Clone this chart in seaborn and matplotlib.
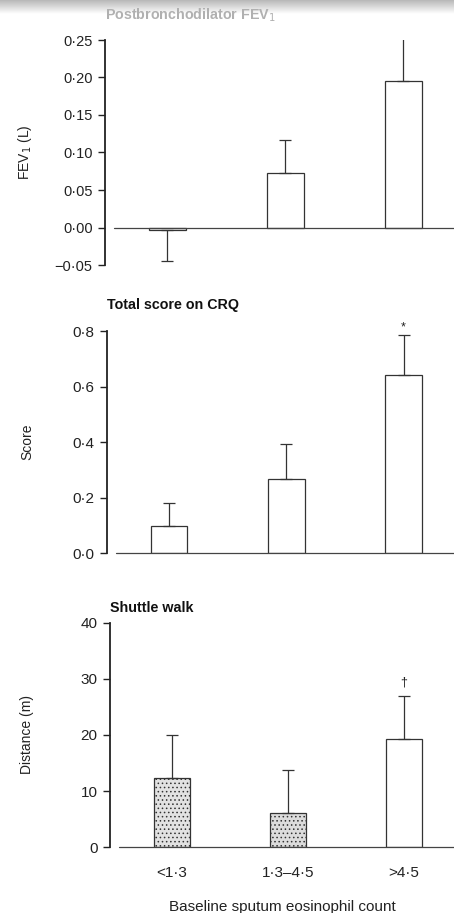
import matplotlib
matplotlib.use("Agg")
import matplotlib.pyplot as plt
import numpy as np
import pandas as pd
import seaborn as sns

sns.set_style("white")
plt.rcParams["font.family"] = ["Liberation Sans", "DejaVu Sans"]
plt.rcParams["hatch.linewidth"] = 0.6

# Eosinophil count groups
categories = ["<1·3", "1·3–4·5", ">4·5"]

# Change in postbronchodilator FEV1 (L): means and error bar ends
fev_mean = [-0.003, 0.073, 0.195]
fev_err_end = [-0.045, 0.117, 0.26]
fev_ticks = [-0.05, 0.00, 0.05, 0.10, 0.15, 0.20, 0.25]
fev_ticklabels = ["−0·05", "0·00", "0·05", "0·10", "0·15", "0·20", "0·25"]

# Change in total CRQ score
crq_mean = [0.097, 0.265, 0.640]
crq_err_end = [0.180, 0.393, 0.785]
crq_ticks = [0.0, 0.2, 0.4, 0.6, 0.8]
crq_ticklabels = ["0·0", "0·2", "0·4", "0·6", "0·8"]

# Change in shuttle walk distance (m)
walk_mean = [12.3, 6.0, 19.2]
walk_err_end = [20.0, 13.8, 27.0]
walk_ticks = [0, 10, 20, 30, 40]
walk_ticklabels = ["0", "10", "20", "30", "40"]

W, H = 454, 913
fig = plt.figure(figsize=(W / 100, H / 100), dpi=100)

# grey scanner band along the top edge
band = fig.add_axes([0, 1 - 14 / H, 1, 14 / H])
grad = np.linspace(0.72, 1.0, 50).reshape(-1, 1)
band.imshow(grad, cmap="gray", vmin=0, vmax=1, aspect="auto", extent=[0, 1, 0, 1])
band.axis("off")


def panel(rect, means, err_end, ticks, ticklabels, ylim, ylabel, title,
          title_y, title_color, fills, hatches, tick_fs, marks=None, show_x=False):
    left, top, bottom = rect
    ax = fig.add_axes([left / W, 1 - bottom / H, 1 - left / W, (bottom - top) / H])
    df = pd.DataFrame({"group": categories, "value": means})
    sns.barplot(data=df, x="group", y="value", ax=ax, color="white",
                width=0.31, errorbar=None, linewidth=0.9, edgecolor="#333333")
    for patch, fc, h in zip(ax.patches, fills, hatches):
        patch.set_facecolor(fc)
        if h:
            patch.set_hatch(h)
    x = np.arange(len(categories))
    yerr_lo = [m - e if e < m else 0 for m, e in zip(means, err_end)]
    yerr_hi = [e - m if e > m else 0 for m, e in zip(means, err_end)]
    ax.errorbar(x, means, yerr=[yerr_lo, yerr_hi], fmt="none", ecolor="#333333",
                elinewidth=0.9, capsize=4.5, capthick=0.9)
    ax.axhline(0, xmin=0.025, xmax=1, color="#444444", lw=0.9, clip_on=False)
    ax.set_xlim(-0.53, 2.43)
    ax.set_ylim(*ylim)
    ax.set_yticks(ticks)
    ax.set_yticklabels(ticklabels, fontsize=tick_fs, color="#222222")
    for s in ["top", "right", "bottom"]:
        ax.spines[s].set_visible(False)
    ax.spines["left"].set_color("#222222")
    ax.spines["left"].set_linewidth(1.3)
    ax.tick_params(axis="y", direction="out", length=5, width=1.0, color="#222222", pad=4, left=True)
    ax.set_ylabel(ylabel, fontsize=10, color="#222222")
    ax.yaxis.set_label_coords(-(left - 34) / (W - left), 0.5)
    ax.text(0.0, title_y, title, transform=ax.transAxes, fontsize=10.3,
            fontweight="bold", color=title_color, ha="left", va="center")
    if marks:
        for i, (sym, yv) in marks.items():
            ax.text(i, yv, sym, ha="center", va="center", fontsize=9, color="#222222")
    if show_x:
        ax.tick_params(axis="x", length=0, pad=14)
        ax.set_xticks(x)
        ax.set_xticklabels(categories, fontsize=11, color="#222222")
        ax.set_xlabel("Baseline sputum eosinophil count", fontsize=11, color="#222222", labelpad=14)
    else:
        ax.set_xticks([])
        ax.set_xlabel("")
    return ax


panel((105, 40, 265), fev_mean, fev_err_end, fev_ticks, fev_ticklabels,
      (-0.05, 0.25), "FEV$_1$ (L)", "Postbronchodilator FEV$_1$", 1.11, "#b0b0b0",
      ["white", "white", "white"], [None, None, None], 10.5)

panel((107, 331, 553), crq_mean, crq_err_end, crq_ticks, crq_ticklabels,
      (0.0, 0.8), "Score", "Total score on CRQ", 1.117, "#111111",
      ["white", "white", "white"], [None, None, None], 11, marks={2: ("*", 0.812)})

panel((110, 623, 847), walk_mean, walk_err_end, walk_ticks, walk_ticklabels,
      (0, 40), "Distance (m)", "Shuttle walk", 1.067, "#111111",
      ["#e2e2e2", "#dcdcdc", "white"], ["....", "....", None], 11,
      marks={2: ("†", 29.3)}, show_x=True)

fig.savefig("out.png", dpi=100)
